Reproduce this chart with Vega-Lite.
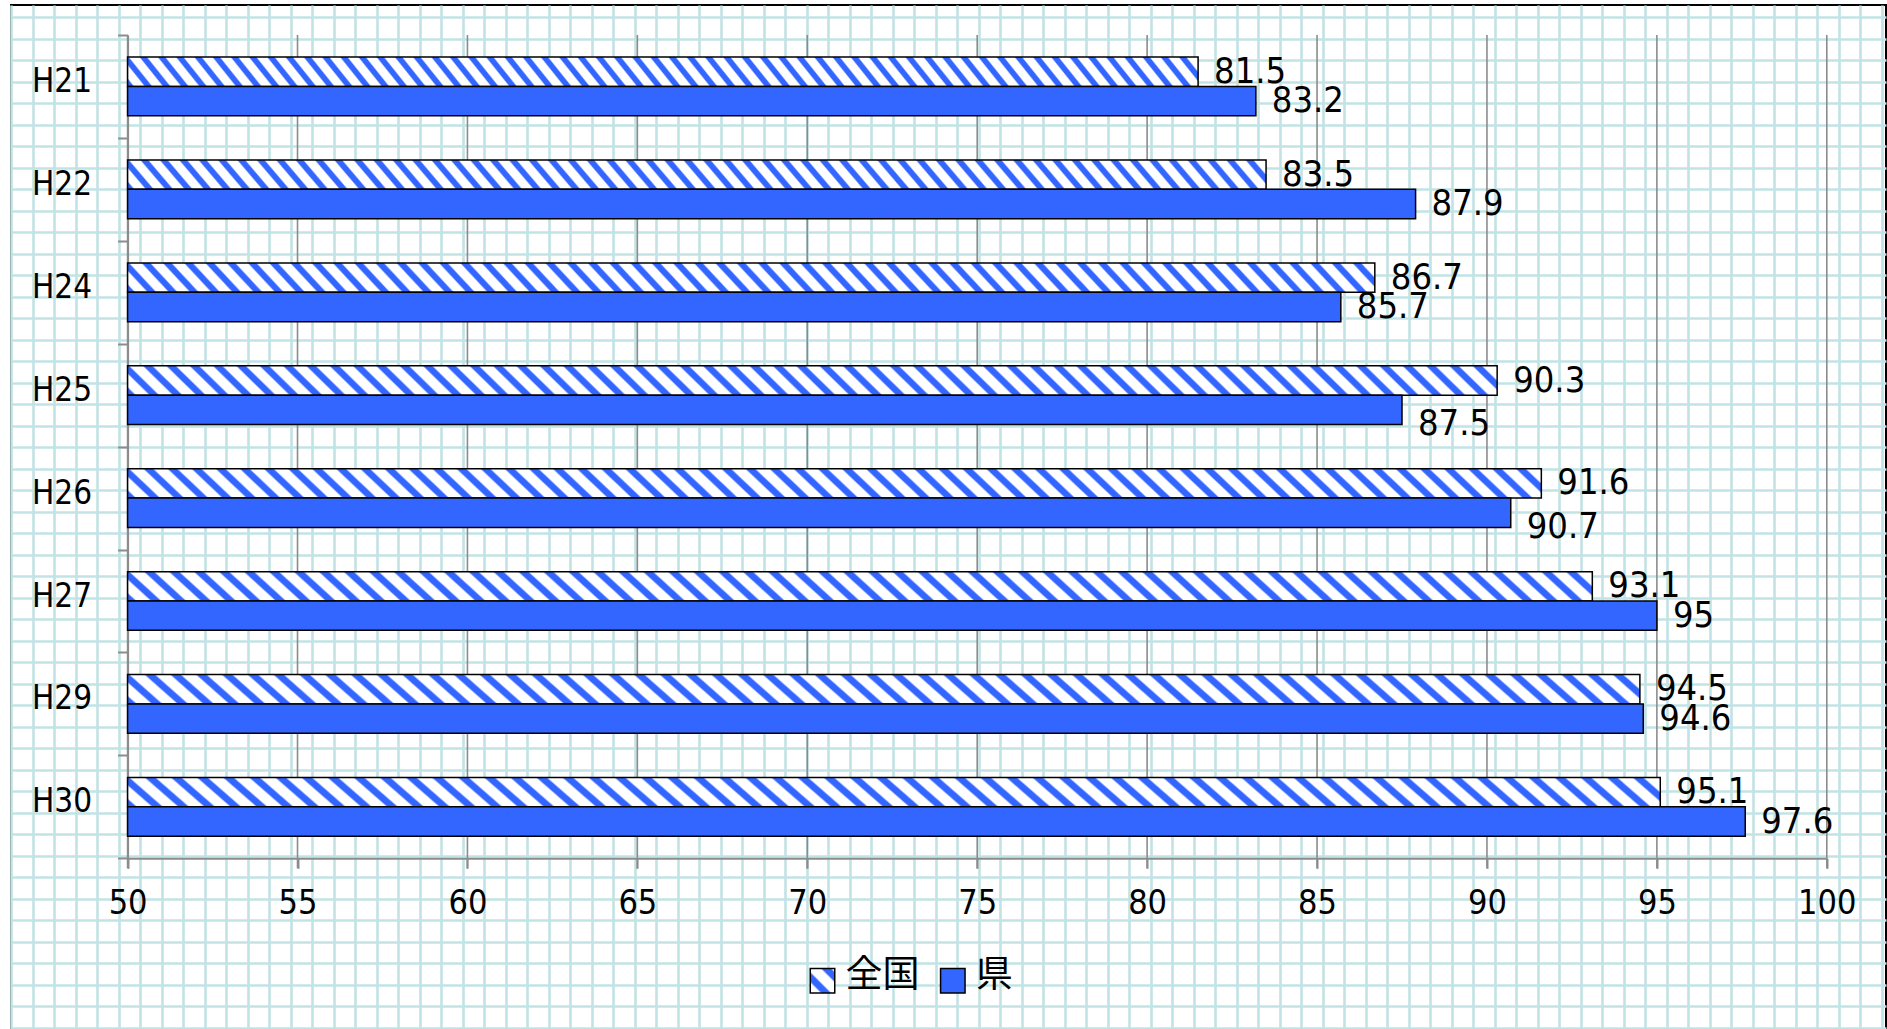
{
"$schema": "https://vega.github.io/schema/vega-lite/v6.json",
"width": 1875,
"height": 1024,
"autosize": "none",
"padding": {"left": 11, "top": 5, "right": 1, "bottom": 0},
"background": "white",
"view": {"stroke": "black", "strokeWidth": 2},
"data": {"values": [
{"year": "H21", "series": "全国", "value": 81.5},
{"year": "H21", "series": "県", "value": 83.2},
{"year": "H22", "series": "全国", "value": 83.5},
{"year": "H22", "series": "県", "value": 87.9},
{"year": "H24", "series": "全国", "value": 86.7},
{"year": "H24", "series": "県", "value": 85.7},
{"year": "H25", "series": "全国", "value": 90.3},
{"year": "H25", "series": "県", "value": 87.5},
{"year": "H26", "series": "全国", "value": 91.6},
{"year": "H26", "series": "県", "value": 90.7},
{"year": "H27", "series": "全国", "value": 93.1},
{"year": "H27", "series": "県", "value": 95},
{"year": "H29", "series": "全国", "value": 94.5},
{"year": "H29", "series": "県", "value": 94.6},
{"year": "H30", "series": "全国", "value": 95.1},
{"year": "H30", "series": "県", "value": 97.6}
]},
"layer": [
{
"mark": {"type": "point", "opacity": 0},
"encoding": {
"x": {"datum": 0, "type": "quantitative", "scale": {"domain": [-0.014, 87.195], "nice": false, "zero": false}, "axis": {"orient": "top", "grid": true, "gridColor": "#c2e3e5", "gridWidth": 2.6, "tickCount": 88, "labels": false, "ticks": false, "domain": false, "title": null}},
"y": {"datum": 0, "type": "quantitative", "scale": {"domain": [-0.572, 47.056], "nice": false, "zero": false, "reverse": true}, "axis": {"orient": "right", "grid": true, "gridColor": "#c2e3e5", "gridWidth": 2.6, "tickCount": 48, "labels": false, "ticks": false, "domain": false, "title": null}}
}
},
{
"data": {"values": [{"t": 50}, {"t": 55}, {"t": 60}, {"t": 65}, {"t": 70}, {"t": 75}, {"t": 80}, {"t": 85}, {"t": 90}, {"t": 95}, {"t": 100}]},
"mark": {"type": "rule", "color": "#8c8c8c", "strokeWidth": 1.6},
"encoding": {
"x": {"field": "t", "type": "quantitative", "scale": {"domain": [50, 100], "range": [116.6, 1815.8], "nice": false, "zero": false}, "axis": null},
"y": {"datum": 0, "type": "quantitative", "scale": {"domain": [0, 1], "range": [863.3, 30], "nice": false, "zero": false}, "axis": null},
"y2": {"datum": 1}
}
},
{
"layer": [
{
"mark": {"type": "bar", "stroke": "black", "strokeWidth": 1.5},
"encoding": {
"y": {"field": "year", "type": "nominal", "sort": null, "scale": {"domain": ["H21", "H22", "H24", "H25", "H26", "H27", "H29", "H30"], "range": [30, 853.3], "paddingInner": 0, "paddingOuter": 0}, "axis": {"orient": "left", "offset": -116.6, "title": null, "grid": false, "tickBand": "extent", "domainColor": "#8c8c8c", "domainWidth": 2, "tickColor": "#8c8c8c", "tickWidth": 2, "tickSize": 10, "labelFont": "DejaVu Sans Condensed, DejaVu Sans", "labelFontSize": 33, "labelColor": "black", "labelPadding": 26, "labelOffset": -5}},
"yOffset": {"field": "series", "type": "nominal", "sort": ["全国", "県"], "scale": {"domain": ["全国", "県"], "paddingInner": 0, "paddingOuter": 0.753}},
"x": {"field": "value", "type": "quantitative", "scale": {"domain": [50, 100], "range": [116.6, 1815.8], "nice": false, "zero": false}, "axis": {"orient": "bottom", "offset": -170.7, "values": [50, 55, 60, 65, 70, 75, 80, 85, 90, 95, 100], "grid": false, "domainColor": "#8c8c8c", "domainWidth": 2, "tickColor": "#8c8c8c", "tickWidth": 2, "tickSize": 10, "labelFont": "DejaVu Sans Condensed, DejaVu Sans", "labelFontSize": 34, "labelColor": "black", "labelPadding": 18, "labelFlush": false, "labelOverlap": false, "title": null}},
"x2": {"datum": 50},
"fill": {"field": "series", "type": "nominal", "legend": null, "scale": {"domain": ["全国", "県"], "range": ["#3366ff", "#3366ff"]},
"condition": {"test": "datum.series === '全国'", "value": {"gradient": "linear", "x1": 0, "y1": 1, "x2": 1.0214, "y2": 0.9776, "stops": [
{"offset":0,"color":"#36f"},{"offset":0.005,"color":"#36f"},{"offset":0.006667,"color":"#fff"},{"offset":0.015,"color":"#fff"},
{"offset":0.016667,"color":"#36f"},{"offset":0.021667,"color":"#36f"},{"offset":0.023333,"color":"#fff"},{"offset":0.031667,"color":"#fff"},
{"offset":0.033333,"color":"#36f"},{"offset":0.038333,"color":"#36f"},{"offset":0.04,"color":"#fff"},{"offset":0.048333,"color":"#fff"},
{"offset":0.05,"color":"#36f"},{"offset":0.055,"color":"#36f"},{"offset":0.056667,"color":"#fff"},{"offset":0.065,"color":"#fff"},
{"offset":0.066667,"color":"#36f"},{"offset":0.071667,"color":"#36f"},{"offset":0.073333,"color":"#fff"},{"offset":0.081667,"color":"#fff"},
{"offset":0.083333,"color":"#36f"},{"offset":0.088333,"color":"#36f"},{"offset":0.09,"color":"#fff"},{"offset":0.098333,"color":"#fff"},
{"offset":0.1,"color":"#36f"},{"offset":0.105,"color":"#36f"},{"offset":0.106667,"color":"#fff"},{"offset":0.115,"color":"#fff"},
{"offset":0.116667,"color":"#36f"},{"offset":0.121667,"color":"#36f"},{"offset":0.123333,"color":"#fff"},{"offset":0.131667,"color":"#fff"},
{"offset":0.133333,"color":"#36f"},{"offset":0.138333,"color":"#36f"},{"offset":0.14,"color":"#fff"},{"offset":0.148333,"color":"#fff"},
{"offset":0.15,"color":"#36f"},{"offset":0.155,"color":"#36f"},{"offset":0.156667,"color":"#fff"},{"offset":0.165,"color":"#fff"},
{"offset":0.166667,"color":"#36f"},{"offset":0.171667,"color":"#36f"},{"offset":0.173333,"color":"#fff"},{"offset":0.181667,"color":"#fff"},
{"offset":0.183333,"color":"#36f"},{"offset":0.188333,"color":"#36f"},{"offset":0.19,"color":"#fff"},{"offset":0.198333,"color":"#fff"},
{"offset":0.2,"color":"#36f"},{"offset":0.205,"color":"#36f"},{"offset":0.206667,"color":"#fff"},{"offset":0.215,"color":"#fff"},
{"offset":0.216667,"color":"#36f"},{"offset":0.221667,"color":"#36f"},{"offset":0.223333,"color":"#fff"},{"offset":0.231667,"color":"#fff"},
{"offset":0.233333,"color":"#36f"},{"offset":0.238333,"color":"#36f"},{"offset":0.24,"color":"#fff"},{"offset":0.248333,"color":"#fff"},
{"offset":0.25,"color":"#36f"},{"offset":0.255,"color":"#36f"},{"offset":0.256667,"color":"#fff"},{"offset":0.265,"color":"#fff"},
{"offset":0.266667,"color":"#36f"},{"offset":0.271667,"color":"#36f"},{"offset":0.273333,"color":"#fff"},{"offset":0.281667,"color":"#fff"},
{"offset":0.283333,"color":"#36f"},{"offset":0.288333,"color":"#36f"},{"offset":0.29,"color":"#fff"},{"offset":0.298333,"color":"#fff"},
{"offset":0.3,"color":"#36f"},{"offset":0.305,"color":"#36f"},{"offset":0.306667,"color":"#fff"},{"offset":0.315,"color":"#fff"},
{"offset":0.316667,"color":"#36f"},{"offset":0.321667,"color":"#36f"},{"offset":0.323333,"color":"#fff"},{"offset":0.331667,"color":"#fff"},
{"offset":0.333333,"color":"#36f"},{"offset":0.338333,"color":"#36f"},{"offset":0.34,"color":"#fff"},{"offset":0.348333,"color":"#fff"},
{"offset":0.35,"color":"#36f"},{"offset":0.355,"color":"#36f"},{"offset":0.356667,"color":"#fff"},{"offset":0.365,"color":"#fff"},
{"offset":0.366667,"color":"#36f"},{"offset":0.371667,"color":"#36f"},{"offset":0.373333,"color":"#fff"},{"offset":0.381667,"color":"#fff"},
{"offset":0.383333,"color":"#36f"},{"offset":0.388333,"color":"#36f"},{"offset":0.39,"color":"#fff"},{"offset":0.398333,"color":"#fff"},
{"offset":0.4,"color":"#36f"},{"offset":0.405,"color":"#36f"},{"offset":0.406667,"color":"#fff"},{"offset":0.415,"color":"#fff"},
{"offset":0.416667,"color":"#36f"},{"offset":0.421667,"color":"#36f"},{"offset":0.423333,"color":"#fff"},{"offset":0.431667,"color":"#fff"},
{"offset":0.433333,"color":"#36f"},{"offset":0.438333,"color":"#36f"},{"offset":0.44,"color":"#fff"},{"offset":0.448333,"color":"#fff"},
{"offset":0.45,"color":"#36f"},{"offset":0.455,"color":"#36f"},{"offset":0.456667,"color":"#fff"},{"offset":0.465,"color":"#fff"},
{"offset":0.466667,"color":"#36f"},{"offset":0.471667,"color":"#36f"},{"offset":0.473333,"color":"#fff"},{"offset":0.481667,"color":"#fff"},
{"offset":0.483333,"color":"#36f"},{"offset":0.488333,"color":"#36f"},{"offset":0.49,"color":"#fff"},{"offset":0.498333,"color":"#fff"},
{"offset":0.5,"color":"#36f"},{"offset":0.505,"color":"#36f"},{"offset":0.506667,"color":"#fff"},{"offset":0.515,"color":"#fff"},
{"offset":0.516667,"color":"#36f"},{"offset":0.521667,"color":"#36f"},{"offset":0.523333,"color":"#fff"},{"offset":0.531667,"color":"#fff"},
{"offset":0.533333,"color":"#36f"},{"offset":0.538333,"color":"#36f"},{"offset":0.54,"color":"#fff"},{"offset":0.548333,"color":"#fff"},
{"offset":0.55,"color":"#36f"},{"offset":0.555,"color":"#36f"},{"offset":0.556667,"color":"#fff"},{"offset":0.565,"color":"#fff"},
{"offset":0.566667,"color":"#36f"},{"offset":0.571667,"color":"#36f"},{"offset":0.573333,"color":"#fff"},{"offset":0.581667,"color":"#fff"},
{"offset":0.583333,"color":"#36f"},{"offset":0.588333,"color":"#36f"},{"offset":0.59,"color":"#fff"},{"offset":0.598333,"color":"#fff"},
{"offset":0.6,"color":"#36f"},{"offset":0.605,"color":"#36f"},{"offset":0.606667,"color":"#fff"},{"offset":0.615,"color":"#fff"},
{"offset":0.616667,"color":"#36f"},{"offset":0.621667,"color":"#36f"},{"offset":0.623333,"color":"#fff"},{"offset":0.631667,"color":"#fff"},
{"offset":0.633333,"color":"#36f"},{"offset":0.638333,"color":"#36f"},{"offset":0.64,"color":"#fff"},{"offset":0.648333,"color":"#fff"},
{"offset":0.65,"color":"#36f"},{"offset":0.655,"color":"#36f"},{"offset":0.656667,"color":"#fff"},{"offset":0.665,"color":"#fff"},
{"offset":0.666667,"color":"#36f"},{"offset":0.671667,"color":"#36f"},{"offset":0.673333,"color":"#fff"},{"offset":0.681667,"color":"#fff"},
{"offset":0.683333,"color":"#36f"},{"offset":0.688333,"color":"#36f"},{"offset":0.69,"color":"#fff"},{"offset":0.698333,"color":"#fff"},
{"offset":0.7,"color":"#36f"},{"offset":0.705,"color":"#36f"},{"offset":0.706667,"color":"#fff"},{"offset":0.715,"color":"#fff"},
{"offset":0.716667,"color":"#36f"},{"offset":0.721667,"color":"#36f"},{"offset":0.723333,"color":"#fff"},{"offset":0.731667,"color":"#fff"},
{"offset":0.733333,"color":"#36f"},{"offset":0.738333,"color":"#36f"},{"offset":0.74,"color":"#fff"},{"offset":0.748333,"color":"#fff"},
{"offset":0.75,"color":"#36f"},{"offset":0.755,"color":"#36f"},{"offset":0.756667,"color":"#fff"},{"offset":0.765,"color":"#fff"},
{"offset":0.766667,"color":"#36f"},{"offset":0.771667,"color":"#36f"},{"offset":0.773333,"color":"#fff"},{"offset":0.781667,"color":"#fff"},
{"offset":0.783333,"color":"#36f"},{"offset":0.788333,"color":"#36f"},{"offset":0.79,"color":"#fff"},{"offset":0.798333,"color":"#fff"},
{"offset":0.8,"color":"#36f"},{"offset":0.805,"color":"#36f"},{"offset":0.806667,"color":"#fff"},{"offset":0.815,"color":"#fff"},
{"offset":0.816667,"color":"#36f"},{"offset":0.821667,"color":"#36f"},{"offset":0.823333,"color":"#fff"},{"offset":0.831667,"color":"#fff"},
{"offset":0.833333,"color":"#36f"},{"offset":0.838333,"color":"#36f"},{"offset":0.84,"color":"#fff"},{"offset":0.848333,"color":"#fff"},
{"offset":0.85,"color":"#36f"},{"offset":0.855,"color":"#36f"},{"offset":0.856667,"color":"#fff"},{"offset":0.865,"color":"#fff"},
{"offset":0.866667,"color":"#36f"},{"offset":0.871667,"color":"#36f"},{"offset":0.873333,"color":"#fff"},{"offset":0.881667,"color":"#fff"},
{"offset":0.883333,"color":"#36f"},{"offset":0.888333,"color":"#36f"},{"offset":0.89,"color":"#fff"},{"offset":0.898333,"color":"#fff"},
{"offset":0.9,"color":"#36f"},{"offset":0.905,"color":"#36f"},{"offset":0.906667,"color":"#fff"},{"offset":0.915,"color":"#fff"},
{"offset":0.916667,"color":"#36f"},{"offset":0.921667,"color":"#36f"},{"offset":0.923333,"color":"#fff"},{"offset":0.931667,"color":"#fff"},
{"offset":0.933333,"color":"#36f"},{"offset":0.938333,"color":"#36f"},{"offset":0.94,"color":"#fff"},{"offset":0.948333,"color":"#fff"},
{"offset":0.95,"color":"#36f"},{"offset":0.955,"color":"#36f"},{"offset":0.956667,"color":"#fff"},{"offset":0.965,"color":"#fff"},
{"offset":0.966667,"color":"#36f"},{"offset":0.971667,"color":"#36f"},{"offset":0.973333,"color":"#fff"},{"offset":0.981667,"color":"#fff"},
{"offset":0.983333,"color":"#36f"},{"offset":0.988333,"color":"#36f"},{"offset":0.99,"color":"#fff"},{"offset":0.998333,"color":"#fff"},
{"offset":1,"color":"#36f"}
]}}
}
}
},
{
"transform": [{"filter": "!(datum.series === '県' && (datum.year === 'H25' || datum.year === 'H26'))"}],
"mark": {"type": "text", "align": "left", "baseline": "middle", "dx": 16, "font": "DejaVu Sans Condensed, DejaVu Sans", "fontSize": 36, "fill": "black"},
"encoding": {
"y": {"field": "year", "type": "nominal", "sort": null},
"yOffset": {"field": "series", "type": "nominal", "sort": ["全国", "県"]},
"x": {"field": "value", "type": "quantitative"},
"text": {"field": "value", "type": "quantitative"}
}
},
{
"transform": [{"filter": "datum.series === '県' && (datum.year === 'H25' || datum.year === 'H26')"}],
"mark": {"type": "text", "align": "left", "baseline": "middle", "dx": 16, "dy": 14, "font": "DejaVu Sans Condensed, DejaVu Sans", "fontSize": 36, "fill": "black"},
"encoding": {
"y": {"field": "year", "type": "nominal", "sort": null},
"yOffset": {"field": "series", "type": "nominal", "sort": ["全国", "県"]},
"x": {"field": "value", "type": "quantitative"},
"text": {"field": "value", "type": "quantitative"}
}
}
]
},
{
"data": {"values": [{"series": "全国"}, {"series": "県"}]},
"layer": [
{
"mark": {"type": "square", "size": 600, "filled": true, "opacity": 1, "stroke": "black", "strokeWidth": 1.5},
"encoding": {
"x": {"field": "series", "type": "nominal", "scale": {"type": "point", "domain": ["全国", "県"], "range": [811.5, 941.8], "padding": 0}, "axis": null},
"y": {"datum": 0, "type": "quantitative", "scale": {"domain": [0, 1], "range": [975.8, 0], "nice": false, "zero": false}, "axis": null},
"fill": {"field": "series", "type": "nominal", "legend": null, "scale": {"domain": ["全国", "県"], "range": ["#3366ff", "#3366ff"]},
"condition": {"test": "datum.series === '全国'", "value": {"gradient": "linear", "x1": 0, "y1": 1, "x2": 1, "y2": 0, "stops": [{"offset":0,"color":"#fff"},{"offset":0.2,"color":"#fff"},{"offset":0.25,"color":"#36f"},{"offset":0.4,"color":"#36f"},{"offset":0.45,"color":"#fff"},{"offset":0.7,"color":"#fff"},{"offset":0.75,"color":"#36f"},{"offset":0.9,"color":"#36f"},{"offset":0.95,"color":"#fff"},{"offset":1,"color":"#fff"}]}}}
}
},
{
"mark": {"type": "text", "align": "left", "baseline": "middle", "dx": 23, "dy": -5, "font": "Noto Sans CJK JP", "fontSize": 37, "fill": "black"},
"encoding": {
"x": {"field": "series", "type": "nominal"},
"y": {"datum": 0, "type": "quantitative"},
"text": {"field": "series", "type": "nominal"}
}
}
]
}
],
"resolve": {"scale": {"x": "independent", "y": "independent"}, "axis": {"x": "independent", "y": "independent"}}
}
